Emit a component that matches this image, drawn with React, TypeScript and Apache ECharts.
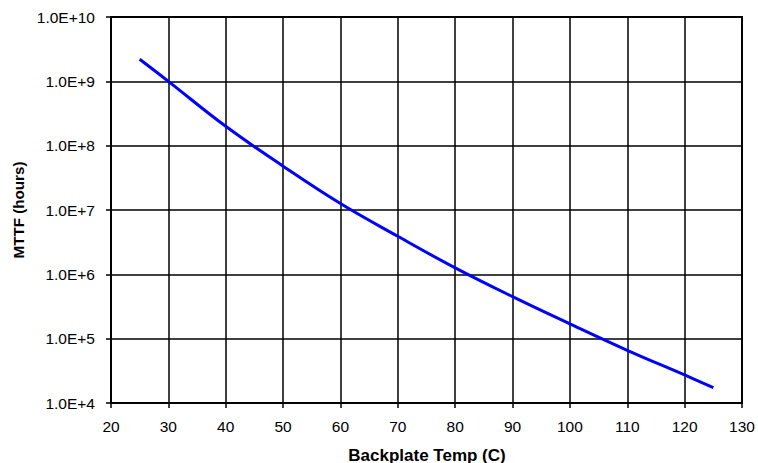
import React, { useEffect, useRef } from "react";
import * as echarts from "echarts";

const temps = [25, 30, 40, 50, 60, 70, 80, 90, 100, 110, 120, 125];
const mttf = [2.2e9, 1.0e9, 2.0e8, 4.8e7, 1.26e7, 3.9e6, 1.26e6, 4.5e5, 1.7e5, 6.6e4, 2.73e4, 1.74e4];
const xTitle = "Backplate Temp (C)";
const yTitle = "MTTF (hours)";

export default function App() {
  const ref = useRef<HTMLDivElement>(null);
  useEffect(() => {
    const chart = echarts.init(ref.current!, null, { renderer: "svg" });
    const font = "Liberation Sans, Arial, sans-serif";
    chart.setOption({
      animation: false,
      backgroundColor: "#fff",
      grid: {
        left: 111, right: 16, top: 17, bottom: 60, show: true, borderColor: "#000", borderWidth: 2,
        containLabel: false, outerBoundsMode: "none",
      },
      graphic: [
        {
          type: "text", x: 427, y: 455,
          style: { text: xTitle, fontFamily: font, fontWeight: "bold", fontSize: 17, fill: "#000", align: "center", verticalAlign: "middle" },
        },
        {
          type: "text", x: 18.5, y: 210, rotation: Math.PI / 2,
          style: { text: yTitle, fontFamily: font, fontWeight: "bold", fontSize: 15.2, fill: "#000", align: "center", verticalAlign: "middle" },
        },
      ],
      xAxis: {
        type: "value", min: 20, max: 130, interval: 10,
        axisLine: { show: true, lineStyle: { color: "#000", width: 2 } },
        axisTick: { show: true, length: 5, lineStyle: { color: "#000", width: 1.5 } },
        axisLabel: { fontFamily: font, fontSize: 15.5, color: "#000", margin: 15 },
        splitLine: { show: true, lineStyle: { color: "#000", width: 1.5 } },
      },
      yAxis: {
        type: "log", logBase: 10, min: 1e4, max: 1e10,
        axisLine: { show: true, lineStyle: { color: "#000", width: 2 } },
        axisTick: { show: true, length: 5, lineStyle: { color: "#000", width: 1.5 } },
        axisLabel: {
          fontFamily: font, fontSize: 15.5, color: "#000", margin: 16,
          formatter: (v: number) => v.toExponential(1).toUpperCase(),
        },
        splitLine: { show: true, lineStyle: { color: "#000", width: 1.5 } },
      },
      series: [{
        type: "line", smooth: 0.4, showSymbol: false,
        data: temps.map((t, i) => [t, mttf[i]]),
        lineStyle: { color: "#0000ff", width: 3 },
      }],
    });
    return () => chart.dispose();
  }, []);
  return <div ref={ref} style={{ width: 758, height: 463, position: "absolute", left: 0, top: 0 }} />;
}
